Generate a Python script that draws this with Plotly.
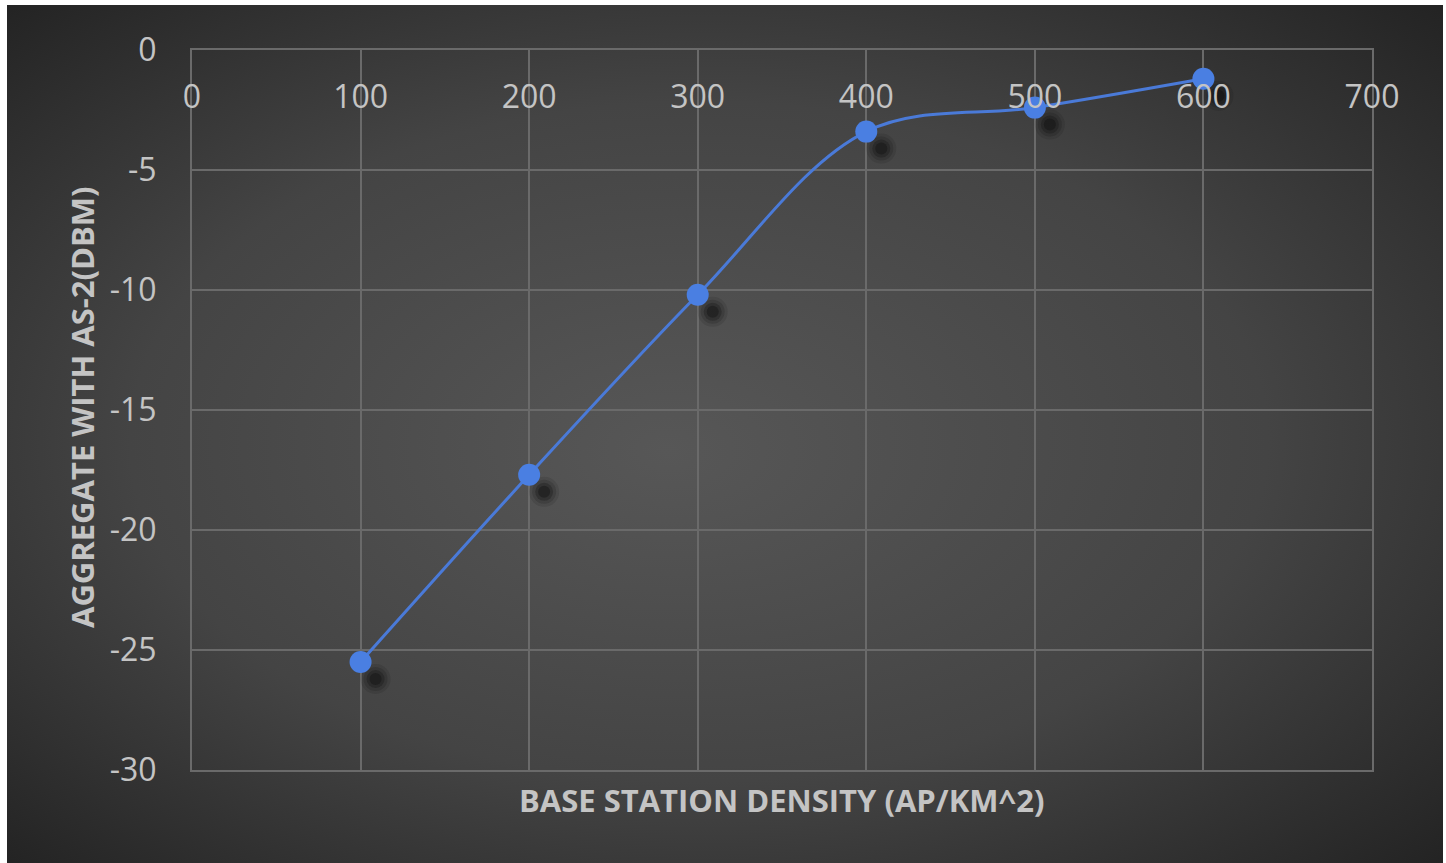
import base64
import plotly.graph_objects as go

# Data
density = [100, 200, 300, 400, 500, 600]
aggregate_dbm = [-25.5, -17.7, -10.2, -3.4, -2.4, -1.2]
x_ticks = [0, 100, 200, 300, 400, 500, 600, 700]
y_ticks = [0, -5, -10, -15, -20, -25, -30]
y_tick_text = ["0", "-5", "-10", "-15", "-20", "-25", "-30"]

W, H = 1446, 863
PX0, PX1 = 192, 1372
PY0, PY1 = 50, 770

svg = f'''<svg xmlns="http://www.w3.org/2000/svg" width="1436" height="858" viewBox="0 0 1436 858" preserveAspectRatio="none">
<defs><radialGradient id="g" cx="50%" cy="50%" r="72%" fx="46%" fy="52%">
<stop offset="0%" stop-color="#575757"/>
<stop offset="55%" stop-color="#444444"/>
<stop offset="100%" stop-color="#222222"/>
</radialGradient></defs>
<rect x="0" y="0" width="1436" height="858" fill="url(#g)"/></svg>'''
src = "data:image/svg+xml;base64," + base64.b64encode(svg.encode()).decode()

dx = 15 * 700 / (PX1 - PX0)
dy = -17 * 30 / (PY1 - PY0)
sx = [v + dx for v in density]
sy = [v + dy for v in aggregate_dbm]

fig = go.Figure()
for size, op in [(30, 0.10), (24, 0.16), (18, 0.24), (12, 0.32)]:
    fig.add_trace(go.Scatter(x=sx, y=sy, mode="markers",
                             marker=dict(size=size, color=f"rgba(10,10,10,{op})"),
                             hoverinfo="skip", showlegend=False))
fig.add_trace(go.Scatter(
    x=density, y=aggregate_dbm, mode="lines+markers",
    line=dict(color="#4a7ad8", width=3, shape="spline", smoothing=1),
    marker=dict(size=22, color="#4a7fe2", line=dict(width=0)),
    showlegend=False))

gridc = "#6a6a6a"
tickfont = dict(family="Open Sans", size=32, color="#c4c4c4")
titlefont = dict(family="Open Sans", size=31, color="#c4c4c4", weight="bold")

fig.update_layout(
    template="none",
    width=W, height=H, autosize=False,
    margin=dict(l=0, r=0, t=0, b=0, pad=0),
    paper_bgcolor="white",
    plot_bgcolor="rgba(0,0,0,0)",
    images=[dict(source=src, xref="paper", yref="paper",
                 x=7 / W, y=1 - 5 / H, sizex=1436 / W, sizey=858 / H,
                 xanchor="left", yanchor="top", sizing="stretch", layer="below")],
    xaxis=dict(domain=[PX0 / W, PX1 / W], range=[0, 700], tickvals=x_ticks,
               side="top", ticklabelposition="inside", ticklabelstandoff=39,
               ticklabeloverflow="allow", automargin=False,
               showgrid=True, gridcolor=gridc, gridwidth=2,
               showline=True, linecolor=gridc, linewidth=2, mirror=True,
               zeroline=False, ticks="", tickfont=tickfont),
    yaxis=dict(domain=[1 - PY1 / H, 1 - PY0 / H], range=[-30, 0],
               tickvals=y_ticks, ticktext=y_tick_text, ticklabeloverflow="allow",
               automargin=False,
               showgrid=True, gridcolor=gridc, gridwidth=2,
               showline=True, linecolor=gridc, linewidth=2, mirror=True,
               zeroline=False, ticks="", ticklabelstandoff=27, tickfont=tickfont),
    annotations=[
        dict(text="BASE STATION DENSITY (AP/KM^2)", xref="paper", yref="paper",
             x=781 / W, y=1 - 800 / H, showarrow=False, font=titlefont,
             xanchor="center", yanchor="middle"),
        dict(text="AGGREGATE WITH AS-2(DBM)", xref="paper", yref="paper",
             x=82 / W, y=1 - 408 / H, showarrow=False, font=titlefont, textangle=-90,
             xanchor="center", yanchor="middle"),
    ],
)

fig.write_html("out.html", config={"displayModeBar": False},
               post_script="document.body.style.margin='0';document.body.style.overflow='hidden';")
